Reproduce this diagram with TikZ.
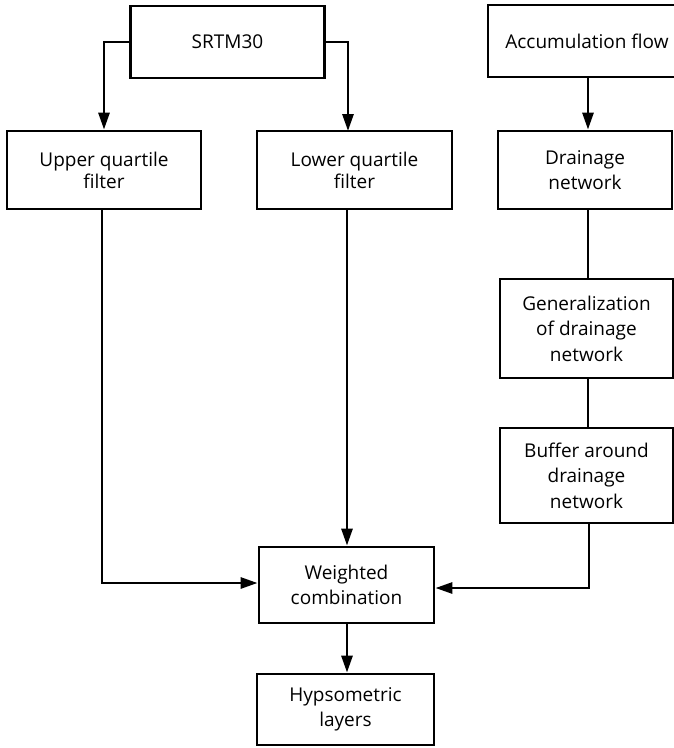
\documentclass[tikz,border=0pt]{standalone}
\usepackage{fontspec}
\setmainfont{Open Sans}
\usetikzlibrary{arrows.meta}
\begin{document}
\begin{tikzpicture}[x=1pt,y=-1pt,
  box/.style={draw, line width=2.8pt, align=center, inner sep=0pt,
    font=\fontsize{19}{25.5}\selectfont},
  tight/.style={font=\fontsize{19}{22}\selectfont},
  conn/.style={line width=2.8pt},
  arr/.style={conn, -{Triangle[length=17pt,width=11pt]}}]
\clip (0,0) rectangle (674,748);
\node[box, minimum width=194pt, minimum height=72pt] (srtm) at (227.5,42) {SRTM30};
\node[box, minimum width=198pt, minimum height=72pt] (accum) at (587,41) {Accumulation flow};
\node[box, tight, minimum width=194pt, minimum height=78pt] (upper) at (104,170) {Upper quartile\\filter};
\node[box, tight, minimum width=195pt, minimum height=78pt] (lower) at (354.5,170) {Lower quartile\\filter};
\node[box, minimum width=174pt, minimum height=78pt] (drain) at (585,170) {Drainage\\network};
\node[box, minimum width=173pt, minimum height=99pt] (gen) at (586.5,328.5) {Generalization\\of drainage\\network};
\node[box, minimum width=173pt, minimum height=95pt] (buf) at (586.5,475.5) {Buffer around\\drainage\\network};
\node[box, minimum width=175pt, minimum height=76pt] (weight) at (346.5,585) {Weighted\\combination};
\node[box, minimum width=177pt, minimum height=71pt] (hyps) at (345.5,709.5) {Hypsometric\\layers};
\coordinate (lowin) at (348,131);
\draw[arr] (srtm.west) -| (upper.north);
\draw[arr] (srtm.east) -| (lowin);
\draw[arr] (accum.south -| 588,0) -- (drain.north -| 588,0);
\draw[conn] (drain.south -| 588,0) -- (gen.north -| 588,0);
\draw[conn] (gen.south -| 588,0) -- (buf.north -| 588,0);
\draw[arr] (buf.south -| 589,0) |- ([yshift=-3pt]weight.east);
\draw[arr] (upper.south -| 102,0) |- ([yshift=2pt]weight.west);
\draw[arr] (lower.south -| 347,0) -- (weight.north -| 347,0);
\draw[arr] (weight.south -| 347,0) -- (hyps.north -| 347,0);
\end{tikzpicture}
\end{document}
